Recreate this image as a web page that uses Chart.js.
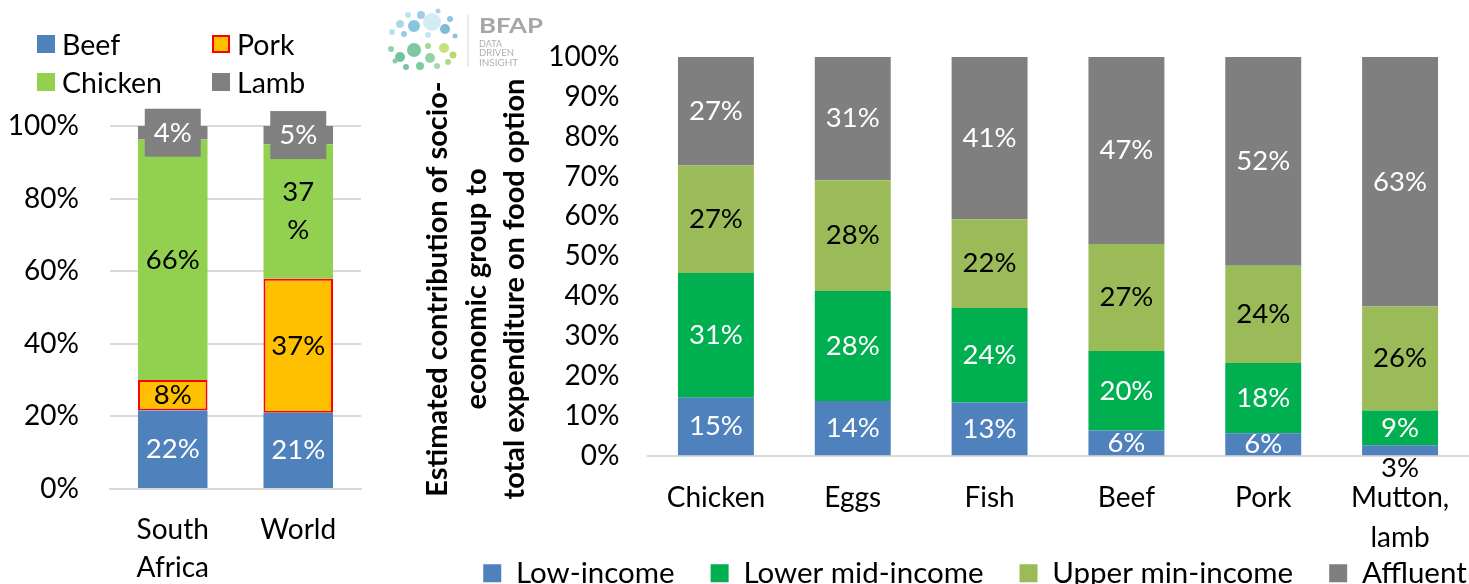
<!DOCTYPE html>
<html>
<head>
<meta charset="utf-8">
<script src="https://cdn.jsdelivr.net/npm/chart.js@4"></script>
<style>
  html, body {
    margin: 0;
    padding: 0;
    width: 1469px;
    height: 584px;
    overflow: hidden;
    background: #fff;
    position: relative;
    font-family: Lato, "Open Sans", sans-serif;
  }
  #meatChartBox { position: absolute; left: 0; top: 0; width: 380px; height: 584px; }
  #spendChartBox { position: absolute; left: 420px; top: 0; width: 1110px; height: 598px; }
  #meatLegend { position: absolute; left: 0; top: 0; }
  .legend-item {
    position: absolute;
    display: flex;
    align-items: center;
    height: 38px;
    font-size: 28.5px;
    color: #000;
    white-space: nowrap;
  }
  .legend-item span {
    display: inline-block;
    width: 18px;
    height: 18px;
    box-sizing: border-box;
    margin-right: 7px;
  }
  #logo { position: absolute; left: 385px; top: 5px; }
</style>
</head>
<body>
<div id="meatChartBox"><canvas id="meatChart"></canvas></div>
<div id="spendChartBox"><canvas id="spendChart"></canvas></div>
<div id="meatLegend"></div>

<svg id="logo" width="180" height="70" viewBox="0 0 180 70">
  <g>
    <circle cx="47" cy="17" r="9" fill="#d3ecf4"/>
    <circle cx="29" cy="21" r="6" fill="#86c5e0"/>
    <circle cx="15" cy="19" r="4" fill="#a9d6ea"/>
    <circle cx="36" cy="10" r="4" fill="#9ccfe5"/>
    <circle cx="60" cy="24" r="5" fill="#7dbcd9"/>
    <circle cx="7" cy="27" r="3" fill="#b9def0"/>
    <circle cx="65" cy="14" r="3" fill="#8fc6df"/>
    <circle cx="43" cy="30" r="3" fill="#c4e6f2"/>
    <circle cx="23" cy="10" r="3" fill="#c1e2ef"/>
    <circle cx="53" cy="6" r="2.5" fill="#a8d4e8"/>
    <circle cx="70" cy="31" r="2.5" fill="#8bc3dd"/>
    <circle cx="19" cy="29" r="3" fill="#98cce4"/>
    <circle cx="29" cy="45" r="7" fill="#7fc7a3"/>
    <circle cx="15" cy="52" r="5" fill="#70c39c"/>
    <circle cx="45" cy="53" r="5" fill="#93d1a6"/>
    <circle cx="59" cy="43" r="5" fill="#c5e27c"/>
    <circle cx="68" cy="50" r="3.5" fill="#b5dc70"/>
    <circle cx="35" cy="61" r="4" fill="#7ccaa2"/>
    <circle cx="6" cy="44" r="3" fill="#93d3b0"/>
    <circle cx="52" cy="61" r="3" fill="#a3d8a8"/>
    <circle cx="21" cy="62" r="3" fill="#79c59d"/>
    <circle cx="63" cy="57" r="3" fill="#a9da8c"/>
    <circle cx="10" cy="56" r="2.5" fill="#86cca8"/>
    <circle cx="43" cy="41" r="3" fill="#a5d98f"/>
  </g>
  <line x1="83" y1="10" x2="83" y2="62" stroke="#d9d9d9" stroke-width="1"/>
  <text x="94" y="28" font-family="Lato" font-weight="bold" font-size="21" fill="#a6a6a6" textLength="64" lengthAdjust="spacingAndGlyphs">BFAP</text>
  <text x="94" y="42" font-family="Lato" font-size="9" fill="#b0b0b0" textLength="23" lengthAdjust="spacingAndGlyphs">DATA</text>
  <text x="94" y="51" font-family="Lato" font-size="9" fill="#b0b0b0" textLength="35" lengthAdjust="spacingAndGlyphs">DRIVEN</text>
  <text x="94" y="61" font-family="Lato" font-size="9" fill="#b0b0b0" textLength="39" lengthAdjust="spacingAndGlyphs">INSIGHT</text>
</svg>

<script>
const fontFamily = "Lato, 'Open Sans', sans-serif";
const textColor = "#000";
const axisLineColor = "#d9d9d9";

// left chart - meat consumption split
const regionLabels = [["South", "Africa"], "World"];
const meatLabels = ["Beef", "Pork", "Chicken", "Lamb"];
const beefShare = [21.6, 21.0];
const porkShare = [8.4, 36.9];
const chickenShare = [66.3, 37.1];
const lambShare = [3.7, 5.0];
const meatColors = ["#4F81BD", "#FFC000", "#92D050", "#808080"];
const meatTicks = [0, 20, 40, 60, 80, 100];

// right chart - spend by socio-economic group
const foodLabels = ["Chicken", "Eggs", "Fish", "Beef", "Pork", ["Mutton,", "lamb"]];
const incomeLabels = ["Low-income", "Lower mid-income", "Upper min-income", "Affluent"];
const lowIncome = [14.5, 13.7, 13.3, 6.3, 5.6, 2.6];
const lowerMidIncome = [31.3, 27.6, 23.7, 19.9, 17.6, 8.7];
const upperMinIncome = [27.0, 27.8, 22.3, 26.9, 24.4, 26.1];
const affluent = [27.2, 30.9, 40.7, 46.9, 52.4, 62.6];
const incomeColors = ["#4F81BD", "#00B050", "#9BBB59", "#7F7F7F"];
const spendTicks = [0, 10, 20, 30, 40, 50, 60, 70, 80, 90, 100];

const yTitleLines = [
  "Estimated contribution of socio-",
  "economic group to",
  "total expenditure on food option",
];

Chart.defaults.font.family = fontFamily;
Chart.defaults.color = textColor;

// draws the % value in the middle of each stacked segment
const barLabels = {
  id: "barLabels",
  afterDatasetsDraw(chart, args, opts) {
    const { ctx, chartArea } = chart;
    ctx.save();
    ctx.font = `${opts.size}px ${fontFamily}`;
    ctx.textAlign = "center";
    ctx.textBaseline = "middle";

    chart.data.datasets.forEach((dataset, i) => {
      chart.getDatasetMeta(i).data.forEach((bar, j) => {
        const value = dataset.data[j];
        const rounded = Math.round(value);
        const { x, y, base } = bar.getProps(["x", "y", "base"], true);
        const cy = (y + base) / 2;

        // too thin: excel pushed it under the axis
        if (value < opts.minInside) {
          ctx.fillStyle = textColor;
          ctx.fillText(rounded + "%", x, chartArea.bottom + opts.outsideOffset);
          return;
        }

        if (dataset.labelBox) {
          ctx.fillStyle = dataset.labelBox;
          ctx.fillRect(x - opts.boxWidth / 2, cy - opts.boxHeight / 2, opts.boxWidth, opts.boxHeight);
        }

        const lines =
          dataset.labelWrap && dataset.labelWrap[j] ? [String(rounded), "%"] : [rounded + "%"];

        ctx.save();
        if (opts.clip) {
          ctx.beginPath();
          ctx.rect(chartArea.left, chartArea.top, chartArea.right - chartArea.left, chartArea.bottom - chartArea.top);
          ctx.clip();
        }
        ctx.fillStyle = dataset.labelColor;
        lines.forEach((line, k) => {
          ctx.fillText(line, x, cy + (k - (lines.length - 1) / 2) * opts.lineGap);
        });
        ctx.restore();
      });
    });
    ctx.restore();
  },
};

// rotated, centred multi-line axis title
const sideTitle = {
  id: "sideTitle",
  afterDraw(chart, args, opts) {
    const ctx = chart.ctx;
    ctx.save();
    ctx.translate(opts.x, opts.y);
    ctx.rotate(-Math.PI / 2);
    ctx.font = `bold ${opts.size}px ${fontFamily}`;
    ctx.fillStyle = textColor;
    ctx.textAlign = "center";
    ctx.textBaseline = "middle";
    opts.lines.forEach((line, k) => ctx.fillText(line, 0, k * opts.lineHeight));
    ctx.restore();
  },
};

function buildMeatLegend() {
  const box = document.querySelector("#meatLegend");
  meatLabels.forEach((label, i) => {
    const item = document.createElement("div");
    item.className = "legend-item";
    item.style.left = (i % 2 === 0 ? 37 : 212) + "px";
    item.style.top = (25 + Math.floor(i / 2) * 38) + "px";
    const swatch = document.createElement("span");
    swatch.style.background = meatColors[i];
    if (label === "Pork") swatch.style.border = "2px solid #FF0000";
    item.appendChild(swatch);
    item.appendChild(document.createTextNode(label));
    box.appendChild(item);
  });
}

function meatChartDraw() {
  const shares = [beefShare, porkShare, chickenShare, lambShare];
  const labelColors = ["#fff", "#000", "#000", "#fff"];

  new Chart(document.querySelector("#meatChart"), {
    type: "bar",
    data: {
      labels: regionLabels,
      datasets: meatLabels.map((label, i) => ({
        label: label,
        data: shares[i],
        backgroundColor: meatColors[i],
        borderColor: label === "Pork" ? "#FF0000" : meatColors[i],
        borderWidth: label === "Pork" ? 2 : 0,
        borderSkipped: false,
        labelColor: labelColors[i],
        labelBox: label === "Lamb" ? meatColors[i] : null,
        labelWrap: label === "Chicken" ? [false, true] : null,
      })),
    },
    options: {
      responsive: true,
      maintainAspectRatio: false,
      animation: false,
      layout: { padding: { top: 126, right: 19, left: 0, bottom: 0 } },
      categoryPercentage: 1,
      barPercentage: 0.554,
      plugins: {
        legend: { display: false },
        tooltip: { enabled: false },
        barLabels: {
          size: 27.5,
          lineGap: 38,
          minInside: 0,
          boxWidth: 56,
          boxHeight: 48,
          clip: false,
        },
      },
      scales: {
        x: {
          stacked: true,
          grid: { display: false, drawTicks: false },
          border: { color: axisLineColor, width: 2 },
          ticks: { color: textColor, font: { size: 28, lineHeight: 1.36 }, padding: 22 },
          afterFit: (scale) => {
            scale.height = 95;
          },
        },
        y: {
          stacked: true,
          min: 0,
          max: 100,
          grid: { color: axisLineColor, lineWidth: 2, drawTicks: false },
          border: { display: false },
          ticks: {
            color: textColor,
            font: { size: 28 },
            padding: 31,
            callback: (v) => v + "%",
          },
          afterBuildTicks: (scale) => {
            scale.ticks = meatTicks.map((v) => ({ value: v }));
          },
          afterFit: (scale) => {
            scale.width = 110;
          },
        },
      },
    },
    plugins: [barLabels],
  });
}

function spendChartDraw() {
  const series = [lowIncome, lowerMidIncome, upperMinIncome, affluent];
  const labelColors = ["#fff", "#fff", "#000", "#fff"];

  new Chart(document.querySelector("#spendChart"), {
    type: "bar",
    data: {
      labels: foodLabels,
      datasets: incomeLabels.map((label, i) => ({
        label: label,
        data: series[i],
        backgroundColor: incomeColors[i],
        borderWidth: 0,
        borderSkipped: false,
        labelColor: labelColors[i],
      })),
    },
    options: {
      responsive: true,
      maintainAspectRatio: false,
      animation: false,
      layout: { padding: { top: 57, left: 0, right: 0, bottom: 0 } },
      categoryPercentage: 1,
      barPercentage: 0.555,
      plugins: {
        legend: {
          position: "bottom",
          labels: {
            color: textColor,
            font: { size: 29.5 },
            boxWidth: 18,
            boxHeight: 18,
            padding: 36,
          },
        },
        tooltip: { enabled: false },
        barLabels: {
          size: 27.5,
          lineGap: 38,
          minInside: 4,
          outsideOffset: 13,
          clip: true,
        },
        sideTitle: {
          lines: yTitleLines,
          x: 18,
          y: 289,
          size: 29,
          lineHeight: 38.5,
        },
      },
      scales: {
        x: {
          stacked: true,
          grid: { display: false, drawTicks: false },
          border: { color: axisLineColor, width: 2 },
          ticks: { color: textColor, font: { size: 28, lineHeight: 1.43 }, padding: 22 },
          afterFit: (scale) => {
            // box is kept short so the legend sits low; let the
            // two-line "Mutton, lamb" label spill past it
            scale.height = 67;
            scale._computeLabelArea = () => null;
          },
        },
        y: {
          stacked: true,
          min: 0,
          max: 100,
          grid: { display: false, drawTicks: false },
          border: { display: false },
          ticks: {
            color: textColor,
            font: { size: 28 },
            padding: 28,
            callback: (v) => v + "%",
          },
          afterBuildTicks: (scale) => {
            scale.ticks = spendTicks.map((v) => ({ value: v }));
          },
          afterFit: (scale) => {
            scale.width = 227.5;
          },
        },
        // empty box on the right so the plot ends at the window edge
        // while the legend still centres on the whole canvas
        yPad: {
          type: "linear",
          position: "right",
          grid: { display: false, drawTicks: false },
          border: { display: false },
          ticks: { display: false },
          afterFit: (scale) => {
            scale.width = 61.5;
          },
        },
      },
    },
    plugins: [barLabels, sideTitle],
  });
}

buildMeatLegend();
meatChartDraw();
spendChartDraw();
</script>
</body>
</html>
